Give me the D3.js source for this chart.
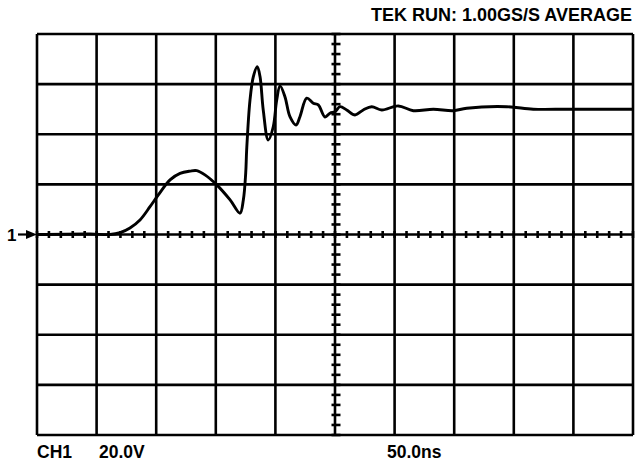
<!DOCTYPE html>
<html>
<head>
<meta charset="utf-8">
<script src="https://cdn.jsdelivr.net/npm/d3@7"></script>
<style>
  body { margin: 0; background: #fff; }
  text { font-family: "Liberation Sans", Arial, sans-serif; font-weight: bold; fill: #000; }
</style>
</head>
<body>
<div id="scope"></div>
<script>
// trace: time in ns, amplitude in volts (20 V/div, 50 ns/div)
const timeNs = [0, 44.5, 61.2, 69.6, 78.0, 86.4, 94.8, 101.8, 111.6, 120.0, 128.4, 134.0, 140.9,
    150.8, 162.0, 170.3, 173.1, 175.1, 175.9, 178.7, 181.5, 184.8, 187.1, 189.8, 194.0, 198.2,
    201.1, 203.9, 208.0, 212.2, 217.3, 220.6, 226.3, 231.8, 236.0, 241.6, 245.8, 250.0, 254.2,
    259.8, 266.8, 273.7, 280.8, 289.2, 303.1, 315.7, 332.5, 349.2, 360.5, 394.0, 416.3, 444.4,
    472.3, 500]
const volts = [0, 0.2, 0, 0.7, 2.6, 5.8, 11.1, 15.8, 21.8, 24.4, 25.3, 25.5, 23.8,
    19.8, 13.8, 8.5, 13.8, 24.6, 33.8, 53.7, 63.0, 67.0, 63.0, 49.7, 37.7, 43.0,
    53.7, 59.3, 55.0, 47.0, 43.7, 47.0, 54.4, 52.4, 51.7, 46.9, 48.4, 49.0, 51.0,
    49.7, 47.7, 49.7, 51.0, 49.7, 51.3, 49.4, 50.0, 49.4, 50.4, 51.0, 50.0, 50.0,
    50.0, 50.0]

const timeDivs = [0, 50, 100, 150, 200, 250, 300, 350, 400, 450, 500]
const voltDivs = [-80, -60, -40, -20, 0, 20, 40, 60, 80]
const headerText = "TEK RUN: 1.00GS/S AVERAGE"
const footerLabels = [["CH1", 37], ["20.0V", 99], ["50.0ns", 387]]

const width = 636, height = 462
const margin = {top: 34, right: 3, bottom: 27, left: 37}

const svg = d3.select("#scope").append("svg")
    .attr("width", width)
    .attr("height", height)

const x = d3.scaleLinear().domain([0, 500]).range([margin.left, width - margin.right])
const y = d3.scaleLinear().domain([-80, 80]).range([height - margin.bottom, margin.top])

// graticule
const grid = svg.append("g").attr("stroke", "#000").attr("stroke-width", 2.6)
grid.selectAll(".vline").data(timeDivs).join("line")
    .attr("x1", d => x(d)).attr("x2", d => x(d))
    .attr("y1", y(80)).attr("y2", y(-80))
grid.selectAll(".hline").data(voltDivs).join("line")
    .attr("y1", d => y(d)).attr("y2", d => y(d))
    .attr("x1", x(0)).attr("x2", x(500))

// minor ticks on the centre axes
const minorT = d3.range(0, 501, 10)
const minorV = d3.range(-80, 81, 4)
grid.selectAll(".tt").data(minorT).join("line")
    .attr("x1", d => x(d)).attr("x2", d => x(d))
    .attr("y1", y(0) - 3.5).attr("y2", y(0) + 3.5)
grid.selectAll(".tv").data(minorV).join("line")
    .attr("y1", d => y(d)).attr("y2", d => y(d))
    .attr("x1", x(250) - 3.5).attr("x2", x(250) + 5.5)

// ground marker "1 ->"
svg.append("text").attr("x", 7).attr("y", y(0) + 6).attr("font-size", 17).text("1")
svg.append("line").attr("x1", 18).attr("x2", 28)
    .attr("y1", y(0)).attr("y2", y(0))
    .attr("stroke", "#000").attr("stroke-width", 2.2)
svg.append("path")
    .attr("d", `M26,${y(0) - 4.5}L${x(0)},${y(0)}L26,${y(0) + 4.5}Z`)
    .attr("fill", "#000")

// the trace
const pts = timeNs.map((t, i) => [t, volts[i]])
svg.append("path")
    .datum(pts)
    .attr("fill", "none")
    .attr("stroke", "#000")
    .attr("stroke-width", 2.9)
    .attr("stroke-linejoin", "round")
    .attr("d", d3.line().x(d => x(d[0])).y(d => y(d[1])).curve(d3.curveCatmullRom.alpha(0.5)))

svg.append("text")
    .attr("x", 632).attr("y", 21)
    .attr("text-anchor", "end")
    .attr("font-size", 18)
    .text(headerText)

svg.selectAll(".foot").data(footerLabels).join("text")
    .attr("x", d => d[1]).attr("y", 457.5)
    .attr("font-size", 17.5)
    .text(d => d[0])
</script>
</body>
</html>
